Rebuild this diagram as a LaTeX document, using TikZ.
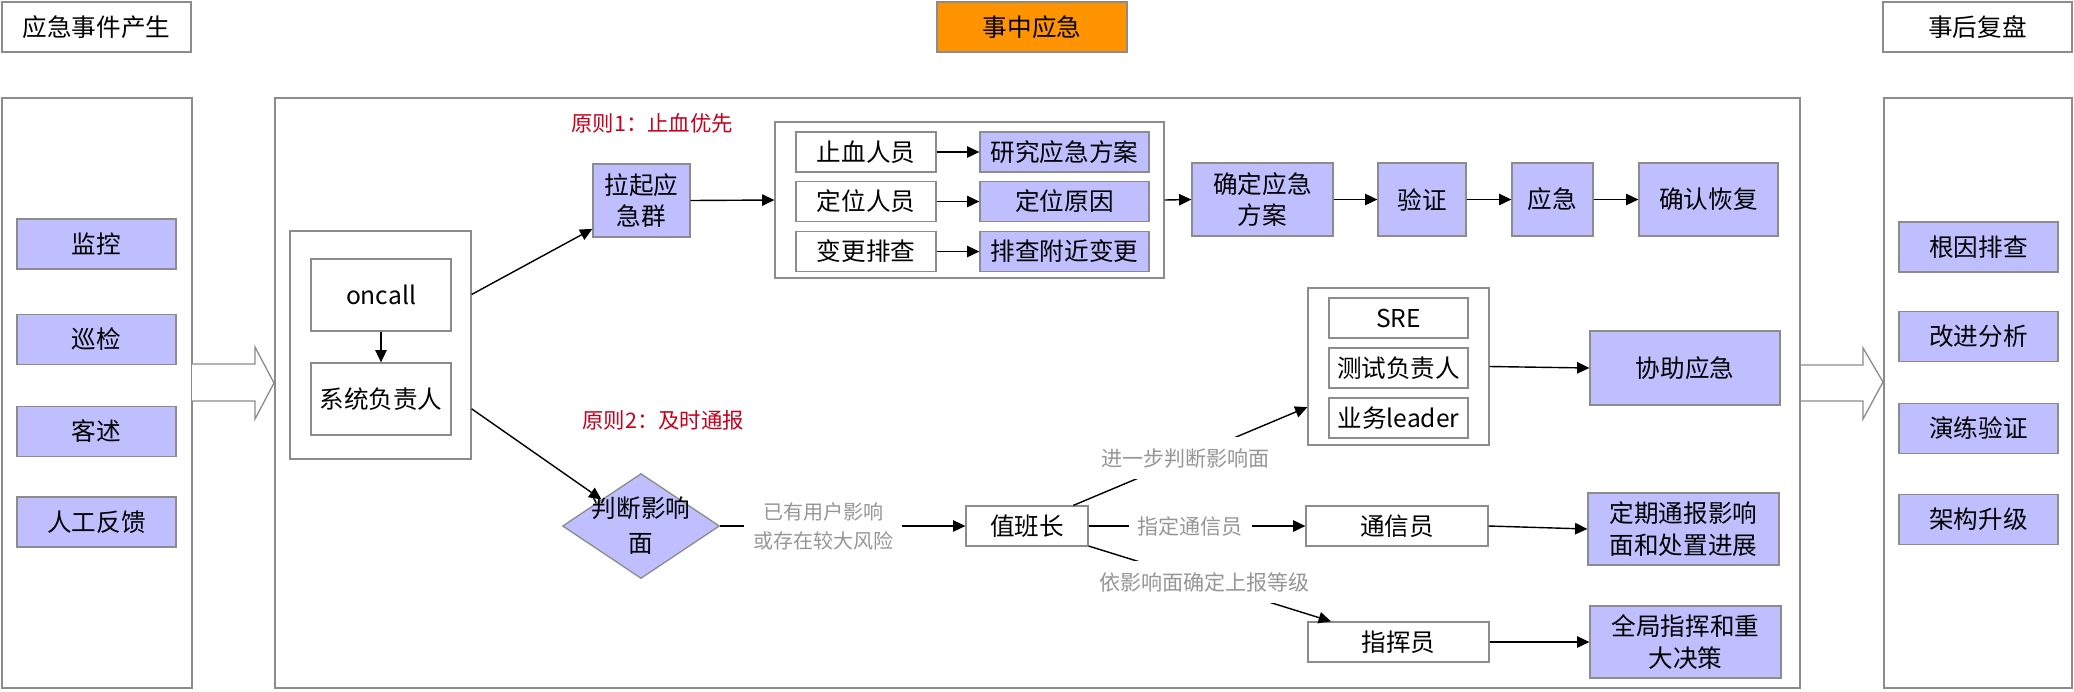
\documentclass[tikz,border=0pt]{standalone}
\usepackage{fontspec}
\setmainfont{Noto Sans CJK SC}
\usepackage{tikz}
\usetikzlibrary{arrows.meta,shapes.geometric,calc}
\definecolor{boxblue}{RGB}{191,191,255}
\definecolor{boxline}{RGB}{140,140,140}
\definecolor{hdorange}{RGB}{255,148,0}
\definecolor{redtxt}{RGB}{200,0,30}
\definecolor{graytxt}{RGB}{150,150,150}

\begin{document}
\begin{tikzpicture}[x=0.02cm,y=-0.02cm,
  pbox/.style={draw=boxline,line width=0.75pt,fill=white,inner sep=0pt,align=center,font=\fontsize{14}{18}\selectfont},
  cbox/.style={pbox,fill=boxblue},
  arr/.style={line width=0.8pt,-{Triangle[length=7pt,width=6.5pt]}},
  glabel/.style={fill=white,text=graytxt,inner xsep=5pt,inner ysep=6.5pt,align=center,font=\fontsize{12}{16.4}\selectfont},
  rlabel/.style={text=redtxt,inner sep=0pt,anchor=west,font=\fontsize{12.2}{15}\selectfont}]

\useasboundingbox (0,0) rectangle (2074,691);

\node[pbox,minimum width=3.78cm,minimum height=1cm] (hdA) at (96.5,27) {应急事件产生};
\node[pbox,fill=hdorange,minimum width=3.8cm,minimum height=1cm] (hdB) at (1032,27) {事中应急};
\node[pbox,minimum width=3.78cm,minimum height=1cm] (hdC) at (1977.5,27) {事后复盘};

\node[pbox,minimum width=3.8cm,minimum height=11.8cm] (lc) at (97,393) {};
\node[pbox,minimum width=30.5cm,minimum height=11.8cm] (mc) at (1037.5,393) {};
\node[pbox,minimum width=3.76cm,minimum height=11.8cm] (rc) at (1978,393) {};

\draw[boxline,line width=0.75pt,fill=white] (192,364) -- (255,364) -- (255,347) -- (274,383) -- (255,419) -- (255,401) -- (192,401);
\draw[boxline,line width=0.75pt,fill=white] (1801,365) -- (1863,365) -- (1863,348) -- (1883,382) -- (1863,419) -- (1863,401) -- (1801,401);

%-------------------------------------
\node[cbox,minimum width=3.18cm,minimum height=1cm] (jk) at (96.5,244) {监控};
\node[cbox,minimum width=3.18cm,minimum height=1cm] (xj) at (96.5,339.5) {巡检};
\node[cbox,minimum width=3.18cm,minimum height=1cm] (ks) at (96.5,431.5) {客述};
\node[cbox,minimum width=3.18cm,minimum height=1cm] (rg) at (96.5,522) {人工反馈};

%-------------------------------------
\node[cbox,minimum width=3.18cm,minimum height=1cm] (gy) at (1978.5,247) {根因排查};
\node[cbox,minimum width=3.18cm,minimum height=1cm] (gj) at (1978.5,336.5) {改进分析};
\node[cbox,minimum width=3.18cm,minimum height=1cm] (yl) at (1978.5,428.5) {演练验证};
\node[cbox,minimum width=3.18cm,minimum height=1cm] (jg) at (1978.5,519.5) {架构升级};

%-------------------------------------
\node[pbox,minimum width=3.62cm,minimum height=4.56cm] (ocg) at (380.5,345) {};
\node[pbox,minimum width=2.8cm,minimum height=1.44cm] (oc) at (381,295) {oncall};
\node[pbox,minimum width=2.8cm,minimum height=1.44cm] (xt) at (381,399) {系统负责人};
\draw[arr] (oc.south) -- (xt.north);

\node[rlabel] (pr1) at (571,123) {原则1：止血优先};
\node[rlabel] (pr2) at (582,420) {原则2：及时通报};

\node[cbox,minimum width=1.94cm,minimum height=1.46cm] (lq) at (641.5,200.5) {拉起应\\急群};
\node[pbox,minimum width=7.78cm,minimum height=3.12cm] (grp) at (969.5,200) {};
\node[pbox,minimum width=2.8cm,minimum height=0.8cm] (r1a) at (866,152) {止血人员};
\node[cbox,minimum width=3.38cm,minimum height=0.8cm] (r1b) at (1064.5,152) {研究应急方案};
\node[pbox,minimum width=2.8cm,minimum height=0.8cm] (r2a) at (866,201.5) {定位人员};
\node[cbox,minimum width=3.38cm,minimum height=0.8cm] (r2b) at (1064.5,201.5) {定位原因};
\node[pbox,minimum width=2.8cm,minimum height=0.8cm] (r3a) at (866,251.5) {变更排查};
\node[cbox,minimum width=3.38cm,minimum height=0.8cm] (r3b) at (1064.5,251.5) {排查附近变更};
\node[cbox,minimum width=2.82cm,minimum height=1.46cm] (qd) at (1262.5,199.5) {确定应急\\方案};
\node[cbox,minimum width=1.76cm,minimum height=1.46cm] (yz) at (1422,199.5) {验证};
\node[cbox,minimum width=1.62cm,minimum height=1.46cm] (yj) at (1552.5,199.5) {应急};
\node[cbox,minimum width=2.78cm,minimum height=1.46cm] (hf) at (1708.5,199.5) {确认恢复};

\draw[arr] (ocg.29) -- (lq.210);
\draw[arr] (lq.east) -- (grp.west);
\draw[arr] (r1a.east) -- (r1b.west);
\draw[arr] (r2a.east) -- (r2b.west);
\draw[arr] (r3a.east) -- (r3b.west);
\draw[arr] (grp.east) -- (qd.west);
\draw[arr] (qd.east) -- (yz.west);
\draw[arr] (yz.east) -- (yj.west);
\draw[arr] (yj.east) -- (hf.west);

%-------------------------------------
\node[diamond,draw=boxline,line width=0.75pt,fill=boxblue,inner sep=0pt,minimum width=3.14cm,minimum height=2.1cm,
  label={[align=center,font=\fontsize{14}{20}\selectfont]center:判断影响\\面}] (dm) at (641,526) {};
\node[pbox,minimum width=2.44cm,minimum height=0.8cm] (zb) at (1027,526) {值班长};

\node[pbox,minimum width=3.62cm,minimum height=3.14cm] (sg) at (1398.5,366.5) {};
\node[pbox,minimum width=2.78cm,minimum height=0.8cm] (sre) at (1398.5,318) {SRE};
\node[pbox,minimum width=2.78cm,minimum height=0.8cm] (cs) at (1398.5,368) {测试负责人};
\node[pbox,minimum width=2.78cm,minimum height=0.8cm] (yw) at (1398.5,418) {业务leader};
\node[cbox,minimum width=3.8cm,minimum height=1.48cm] (xz) at (1685,368) {协助应急};

\node[pbox,minimum width=3.64cm,minimum height=0.8cm] (tx) at (1397,526) {通信员};
\node[cbox,minimum width=3.82cm,minimum height=1.44cm] (dq) at (1683.5,529) {定期通报影响\\面和处置进展};
\node[pbox,minimum width=3.62cm,minimum height=0.8cm] (zh) at (1398.5,642) {指挥员};
\node[cbox,minimum width=3.82cm,minimum height=1.44cm] (qj) at (1685.5,642) {全局指挥和重\\大决策};

\draw[arr] (ocg.-35) -- ($(dm.west)!.5!(dm.north)$);
\draw[arr] (dm.east) -- node[glabel,pos=.42,font=\fontsize{11.4}{16.4}\selectfont] (l1) {已有用户影响\\或存在较大风险} (zb.west);
\draw[arr] (zb.24) -- node[glabel,pos=.48] (l2) {进一步判断影响面} (sg.204);
\draw[arr] (zb.east) -- node[glabel,pos=.468] (l3) {指定通信员} (tx.west);
\draw[arr] (zb.-18) -- node[glabel,pos=.478] (l4) {依影响面确定上报等级} (zh.163);
\draw[arr] (sg.east) -- (xz.west);
\draw[arr] (tx.east) -- (dq.west);
\draw[arr] (zh.east) -- (qj.west);
\end{tikzpicture}
\end{document}
